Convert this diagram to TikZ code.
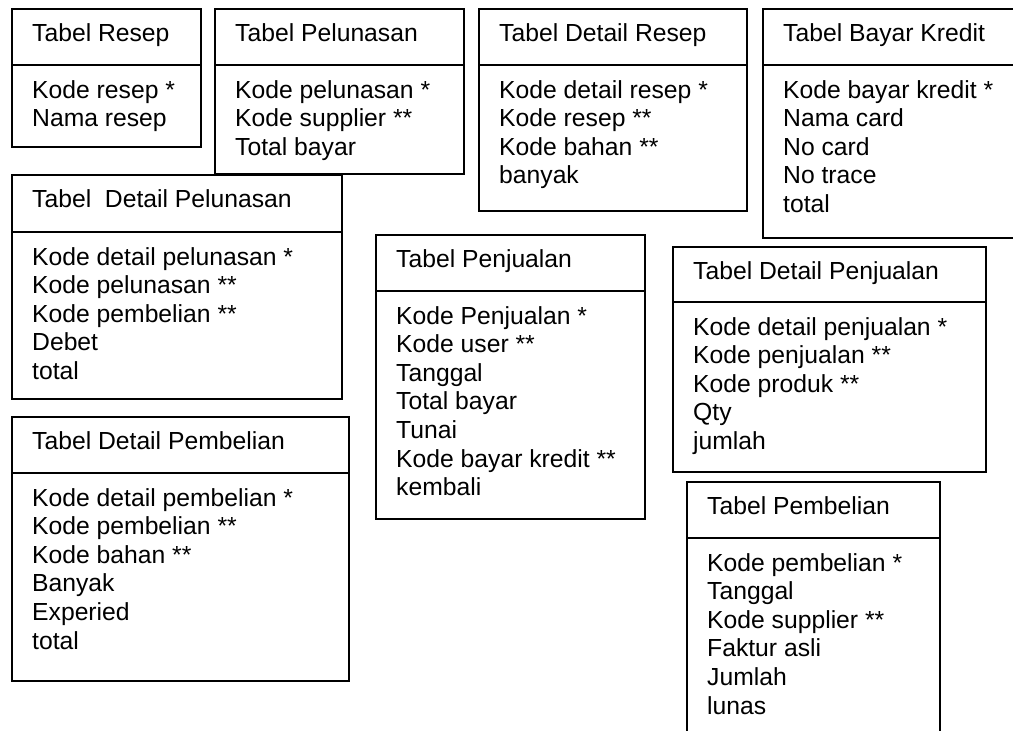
\documentclass[tikz,border=0pt]{standalone}
\usepackage{fontspec}
\setmainfont{Liberation Sans}
\newcommand\tblfont{\fontsize{24.7pt}{28.6pt}\selectfont}

\tikzset{
  tblpart/.style={draw=black, line width=1.6pt, rectangle, inner sep=0pt,
                  anchor=north west},
  tbltext/.style={anchor=base west, inner sep=0pt, font=\tblfont},
}

% #1 name, #2 left, #3 top, #4 right, #5 header rule, #6 bottom,
% #7 title, #8 comma separated field list
\newcommand\erdtable[8]{%
  \node[tblpart, minimum width={(#4-#2)*1pt}, minimum height={(#5-#3)*1pt}]
    (#1-head) at (#2,#3) {};
  \node[tblpart, minimum width={(#4-#2)*1pt}, minimum height={(#6-#5)*1pt}]
    (#1-body) at (#2,#5) {};
  \node[tbltext] (#1-title) at ({#2+21},{#3+33.5}) {#7};
  \foreach \fld [count=\i] in {#8}
    \node[tbltext] (#1-row\i) at ({#2+21},{#5+34+(\i-1)*28.6}) {\fld};
}

\begin{document}
\begin{tikzpicture}[x=1pt, y=-1pt]
  \path[use as bounding box] (0,0) rectangle (1013,731);
  \fill[white] (0,0) rectangle (1013,731);
  \clip (0,0) rectangle (1013,731);

  \erdtable{resep}{11}{8}{200}{64}{146}{Tabel Resep}
    {Kode resep *, Nama resep}
  \erdtable{pelunasan}{214}{8}{463}{64}{173}{Tabel Pelunasan}
    {Kode pelunasan *, Kode supplier **, Total bayar}
  \erdtable{detresep}{478}{8}{746}{64}{210}{Tabel Detail Resep}
    {Kode detail resep *, Kode resep **, Kode bahan **, banyak}
  \erdtable{kredit}{762}{8}{1016}{64}{237}{Tabel Bayar Kredit}
    {Kode bayar kredit *, Nama card, No card, No trace, total}
  \erdtable{detpelunasan}{11}{174}{341}{231}{398}{Tabel\ \ Detail Pelunasan}
    {Kode detail pelunasan *, Kode pelunasan **, Kode pembelian **, Debet, total}
  \erdtable{penjualan}{375}{234}{644}{290}{518}{Tabel Penjualan}
    {Kode Penjualan *, Kode user **, Tanggal, Total bayar, Tunai,
     Kode bayar kredit **, kembali}
  \erdtable{detpenjualan}{672}{246}{985}{301}{471}{Tabel Detail Penjualan}
    {Kode detail penjualan *, Kode penjualan **, Kode produk **, Qty, jumlah}
  \erdtable{detpembelian}{11}{416}{348}{472}{680}{Tabel Detail Pembelian}
    {Kode detail pembelian *, Kode pembelian **, Kode bahan **, Banyak,
     Experied, total}
  \erdtable{pembelian}{686}{481}{939}{537}{760}{Tabel Pembelian}
    {Kode pembelian *, Tanggal, Kode supplier **, Faktur asli, Jumlah, lunas}
\end{tikzpicture}
\end{document}
